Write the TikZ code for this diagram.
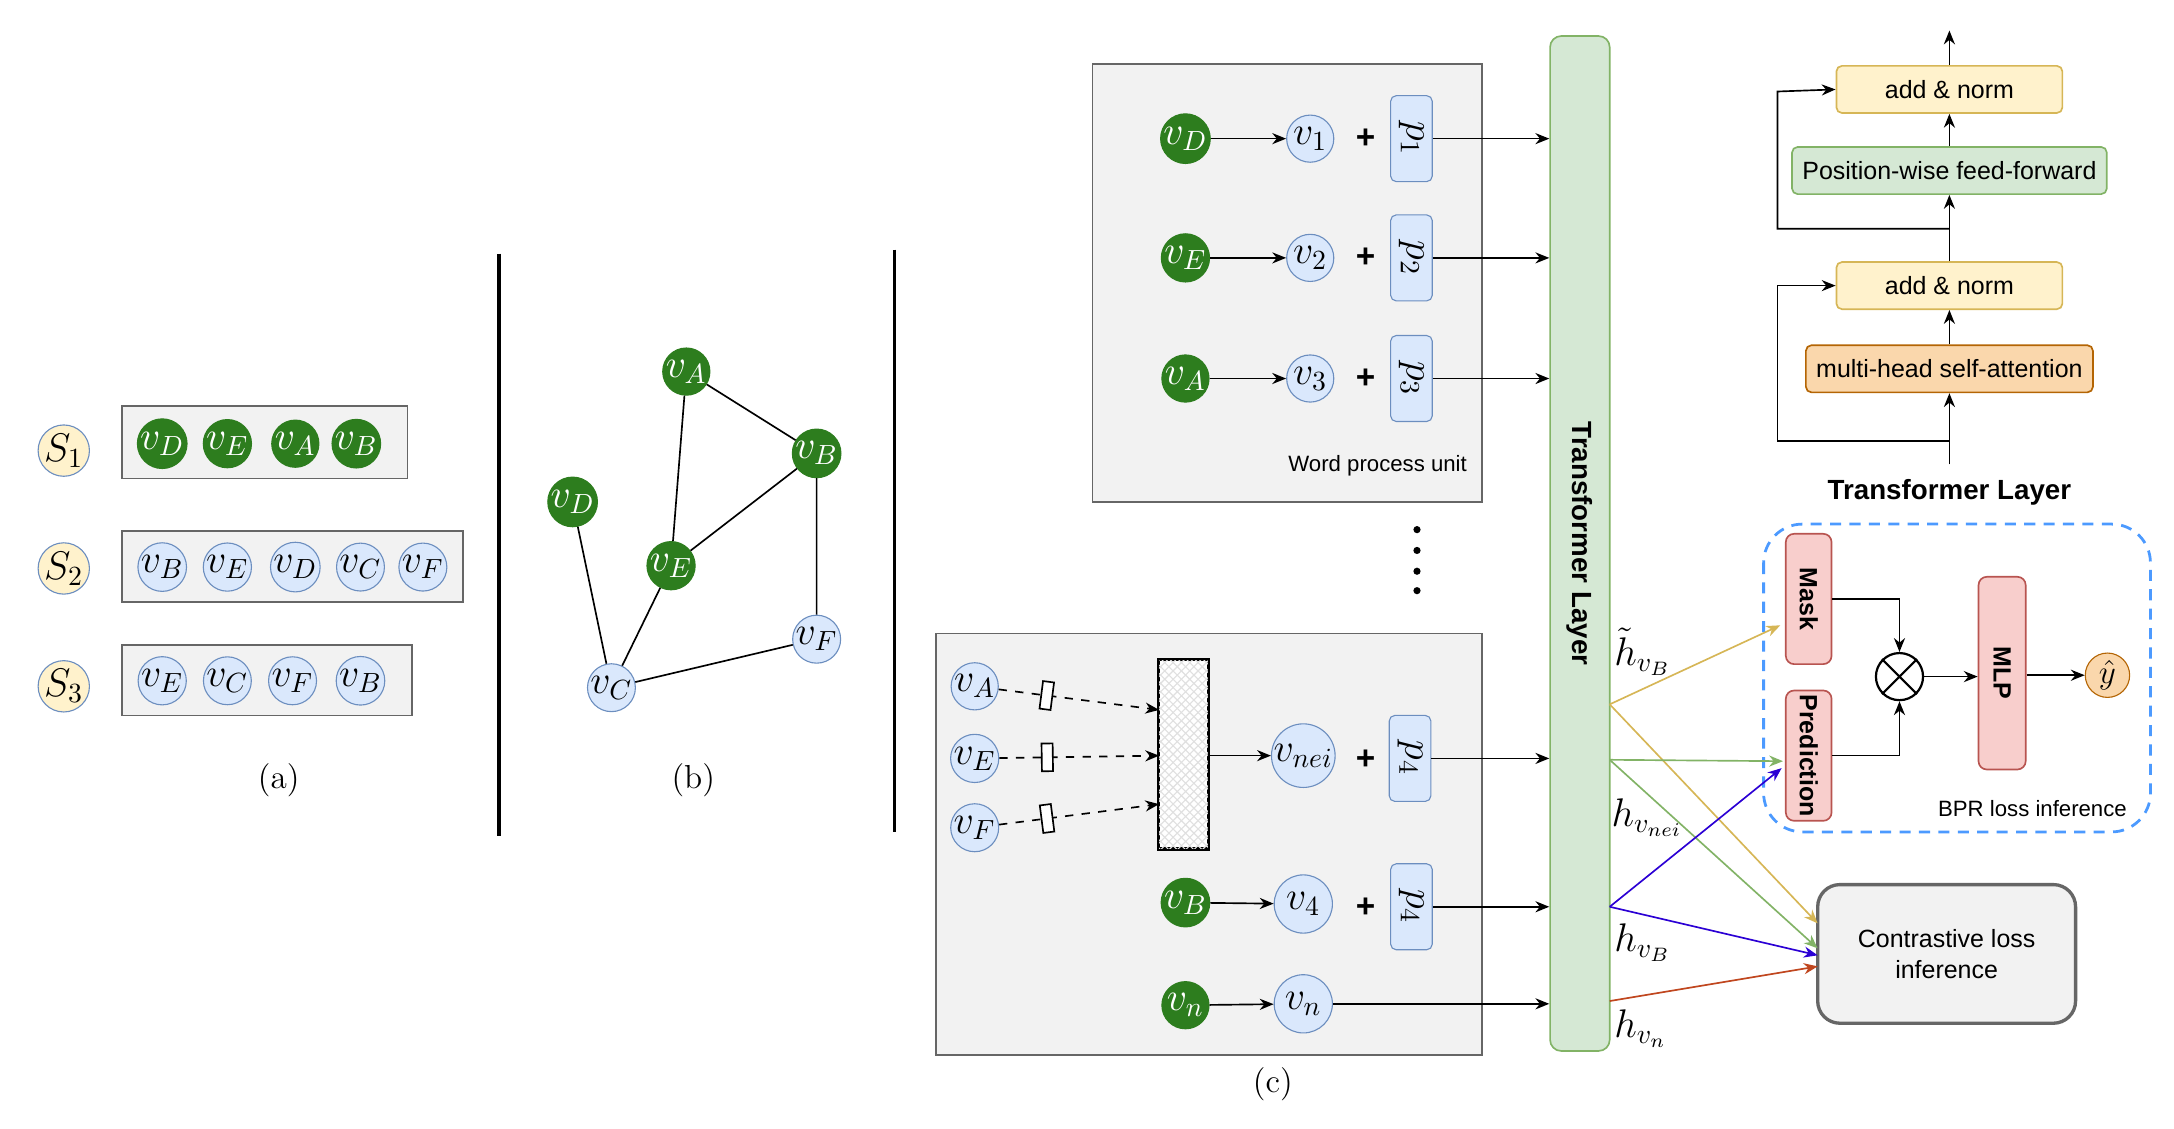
\documentclass[tikz,border=0pt]{standalone}
\usepackage{fontspec}
\setsansfont{Liberation Sans}
\usetikzlibrary{arrows.meta,patterns,calc}
\definecolor{gfill}{HTML}{2D7D1E}
\definecolor{bfill}{HTML}{DAE8FC}
\definecolor{bstroke}{HTML}{6C8EBF}
\definecolor{yfill}{HTML}{FFF2CC}
\definecolor{ystroke}{HTML}{D6B656}
\definecolor{grfill}{HTML}{D5E8D4}
\definecolor{grstroke}{HTML}{82B366}
\definecolor{ofill}{HTML}{FAD7AC}
\definecolor{ostroke}{HTML}{B46504}
\definecolor{pfill}{HTML}{F8CECC}
\definecolor{pstroke}{HTML}{B85450}
\definecolor{dblue}{HTML}{4C9AFF}
\definecolor{cgold}{HTML}{D6B656}
\definecolor{cgreen}{HTML}{82B366}
\definecolor{cblue}{HTML}{2B00D4}
\definecolor{cred}{HTML}{C0461E}
\begin{document}
\begin{tikzpicture}[x=0.5pt,y=-0.5pt,
 gc/.style={circle,draw=gfill,fill=gfill,text=white,minimum size=17pt,inner sep=0pt,font=\Large},
 bc/.style={circle,draw=bstroke,fill=bfill,minimum size=17pt,inner sep=0pt,font=\Large},
 bcl/.style={bc,minimum size=21pt},
 sc/.style={circle,draw=bstroke,fill=yfill,minimum size=17pt,inner sep=0pt,font=\Large},
 seqbox/.style={draw=black!60,fill=black!5,line width=0.6pt},
 pbox/.style={draw=bstroke,fill=bfill,rounded corners=2pt,minimum width=15pt,minimum height=31pt,inner sep=0pt,font=\Large},
 plus/.style={font=\sffamily\bfseries\large},
 arr/.style={-{Stealth[length=5pt,width=4pt]},line width=0.6pt},
 tb/.style={draw,rounded corners=2pt,font=\sffamily\small,minimum height=17pt,inner sep=1pt,line width=0.6pt},
 pk/.style={draw=pstroke,fill=pfill,rounded corners=3pt,line width=0.6pt},
 lab/.style={font=\large},
 hl/.style={font=\Large,anchor=west,inner sep=1pt}]
\useasboundingbox (0,0) rectangle (1568,814);
% (a)
\foreach \y/\s in {325/1,410/2,495/3}{\node[sc] (S\s) at (46,\y) {$S_\s$};}
\draw[seqbox] (88,293) rectangle (294,345);
\draw[seqbox] (88,383) rectangle (334,434);
\draw[seqbox] (88,465) rectangle (297,516);
\node[gc] (a1) at (117,320) {$v_D$};
\node[gc] (a2) at (164,320) {$v_E$};
\node[gc] (a3) at (213,320) {$v_A$};
\node[gc] (a4) at (257,320) {$v_B$};
\node[bc] (b1) at (117,409) {$v_B$};
\node[bc] (b2) at (164,409) {$v_E$};
\node[bc] (b3) at (213,409) {$v_D$};
\node[bc] (b4) at (260,409) {$v_C$};
\node[bc] (b5) at (305,409) {$v_F$};
\node[bc] (c1) at (117,491) {$v_E$};
\node[bc] (c2) at (164,491) {$v_C$};
\node[bc] (c3) at (211,491) {$v_F$};
\node[bc] (c4) at (260,491) {$v_B$};
\node[lab] (la) at (201,563) {(a)};
\draw[line width=1.2pt] (360,183) -- (360,603);
\draw[line width=1.2pt] (645,180) -- (645,600);
% (b)
\node[gc] (gA) at (495,268) {$v_A$};
\node[gc] (gB) at (589,327) {$v_B$};
\node[gc] (gD) at (413,362) {$v_D$};
\node[gc] (gE) at (484,408) {$v_E$};
\node[bc] (gF) at (589,461) {$v_F$};
\node[bc] (gC) at (441,496) {$v_C$};
\draw[line width=0.6pt] (gA)--(gE) (gA)--(gB) (gB)--(gE) (gB)--(gF) (gF)--(gC) (gD)--(gC) (gE)--(gC);
\node[lab] (lb) at (500,563) {(b)};
% (c) upper box
\draw[seqbox] (788,46) rectangle (1069,362);
\node[draw=grstroke,fill=grfill,rounded corners=4pt,minimum width=21.5pt,minimum height=366pt,inner sep=0pt,line width=0.6pt] (T) at (1139.5,392) {};
\node[rotate=-90,font=\sffamily\bfseries] at (T.center) {Transformer Layer};
\foreach \y/\i in {100/1,186/2,273/3}{
 \node[bc] (w\i) at (945,\y) {$v_\i$};
 \node[plus] (pl\i) at (985,\y) {+};
 \node[pbox] (p\i) at (1018,\y) {\rotatebox{-90}{$p_\i$}};
}
\node[gc] (gD1) at (855,100) {$v_D$};
\node[gc] (gE1) at (855,186) {$v_E$};
\node[gc] (gA1) at (855,273) {$v_A$};
\draw[arr] (gD1)--(w1); \draw[arr] (gE1)--(w2); \draw[arr] (gA1)--(w3);
\foreach \i in {1,2,3}{\draw[arr] (p\i.east) -- (p\i.east -| T.west);}
\node[font=\sffamily\footnotesize,anchor=east] (wpu) at (1065,336) {Word process unit};
\foreach \y in {382,397,412,426}{\fill (1022,\y) circle (1.3pt);}
% lower box
\draw[seqbox] (675,457) rectangle (1069,761);
\node[bc] (nA) at (703,495) {$v_A$};
\node[bc] (nE) at (703,547) {$v_E$};
\node[bc] (nF) at (703,597) {$v_F$};
\node[draw,line width=0.8pt,fill=white,minimum width=17.5pt,minimum height=68pt,inner sep=0pt] (H) at (853.5,544) {};
\fill[pattern=crosshatch,pattern color=black!12] (H.south west) rectangle (H.north east);
\draw[line width=0.8pt] (H.south west) rectangle (H.north east);
\coordinate (hA) at (836,512);
\coordinate (hE) at (836,545);
\coordinate (hF) at (836,580);
\foreach \s/\t in {nA/hA,nE/hE,nF/hF}{
 \draw[arr,dashed] (\s) -- node[pos=0.3,sloped,draw,solid,fill=white,minimum width=4pt,minimum height=10pt,inner sep=0pt]{} (\t);}
\node[bcl] (vn) at (940,545) {$v_{nei}$};
\draw[arr] (H.east |- vn) -- (vn);
\node[plus] (pl4) at (985,548) {+};
\node[pbox] (p4) at (1017,547) {\rotatebox{-90}{$p_4$}};
\draw[arr] (p4.east) -- (p4.east -| T.west);
\node[gc] (gB2) at (855,651) {$v_B$};
\node[bcl] (v4) at (940,652) {$v_4$};
\node[plus] (pl5) at (985,655) {+};
\node[pbox] (p5) at (1018,654) {\rotatebox{-90}{$p_4$}};
\draw[arr] (gB2)--(v4);
\draw[arr] (p5.east) -- (p5.east -| T.west);
\node[gc] (gn) at (855,725) {$v_n$};
\node[bcl] (vnn) at (940,724) {$v_n$};
\draw[arr] (gn)--(vnn);
\draw[arr] (vnn.east) -- (vnn.east -| T.west);
\node[lab] (lc) at (918,782) {(c)};
% transformer layer detail
\node[tb,draw=ystroke,fill=yfill,minimum width=81.5pt] (an2) at (1406,64.5) {add \& norm};
\node[tb,draw=grstroke,fill=grfill,minimum width=113.5pt] (ff) at (1406,123) {Position-wise feed-forward};
\node[tb,draw=ystroke,fill=yfill,minimum width=81.5pt] (an1) at (1406,206) {add \& norm};
\node[tb,draw=ostroke,fill=ofill,minimum width=103.5pt] (mh) at (1406,266) {multi-head self-attention};
\coordinate (tin) at (1406,335);
\coordinate (tout) at (1406,22);
\draw[arr] (tin) -- (mh);
\draw[arr] (mh) -- (an1);
\draw[arr] (an1) -- (ff);
\draw[arr] (ff) -- (an2);
\draw[arr] (an2) -- (tout);
\draw[arr] (1406,318) -| (1282,206) -- (an1.west);
\draw[arr] (1406,165) -| (1282,66) -- (an2.west);
\node[font=\sffamily\bfseries] (tl) at (1406,355) {Transformer Layer};
% BPR
\draw[dblue,line width=1pt,dash pattern=on 4pt off 3pt,rounded corners=14pt] (1272,378) rectangle (1551,600);
\node[pk,minimum width=16.5pt,minimum height=47pt] (mask) at (1304.5,432) {};
\node[rotate=-90,font=\sffamily\bfseries\small] at (mask) {Mask};
\node[pk,minimum width=16.5pt,minimum height=47pt] (pred) at (1304.5,545) {};
\node[rotate=-90,font=\sffamily\bfseries\small] at (pred) {Prediction};
\node[circle,draw,line width=0.8pt,minimum size=17pt,inner sep=0pt] (ot) at (1370,488) {};
\draw[line width=0.8pt] (ot.north west)--(ot.south east) (ot.north east)--(ot.south west);
\node[pk,minimum width=17pt,minimum height=69.5pt] (mlp) at (1444,485.5) {};
\node[rotate=-90,font=\sffamily\bfseries\small] at (mlp) {MLP};
\node[circle,draw=ostroke,fill=ofill,minimum size=16pt,inner sep=0pt,font=\large] (yh) at (1520,487) {$\hat y$};
\draw[arr] (mask.east) -| (ot.north);
\draw[arr] (pred.east) -| (ot.south);
\draw[arr] (ot) -- (mlp.west |- ot);
\draw[arr] (mlp.east |- yh) -- (yh);
\node[font=\sffamily\footnotesize,anchor=east] (bpr) at (1541,583) {BPR loss inference};
\node[draw=black!60,fill=black!5,line width=1.2pt,rounded corners=8pt,minimum width=93pt,minimum height=50pt,align=center,font=\sffamily\small] (cl) at (1404,688) {Contrastive loss\\inference};
% colored connectors
\coordinate (o1) at (1161,508);
\coordinate (o2) at (1161,548);
\coordinate (o3) at (1161,654);
\coordinate (o4) at (1161,722);
\draw[arr,cgold] (o1) -- (1284,451);
\draw[arr,cgold] (o1) -- (1311,666);
\draw[arr,cgreen] (o2) -- (1286,549);
\draw[arr,cgreen] (o2) -- (1311,684);
\draw[arr,cblue] (o3) -- (1285,554);
\draw[arr,cblue] (o3) -- (1311,689);
\draw[arr,cred] (o4) -- (1311,697);
\node[hl] (l1) at (1162,470) {$\tilde h_{v_B}$};
\node[hl] (l2) at (1160,590) {$h_{v_{nei}}$};
\node[hl] (l3) at (1162,680) {$h_{v_B}$};
\node[hl] (l4) at (1162,742) {$h_{v_n}$};
\end{tikzpicture}
\end{document}
